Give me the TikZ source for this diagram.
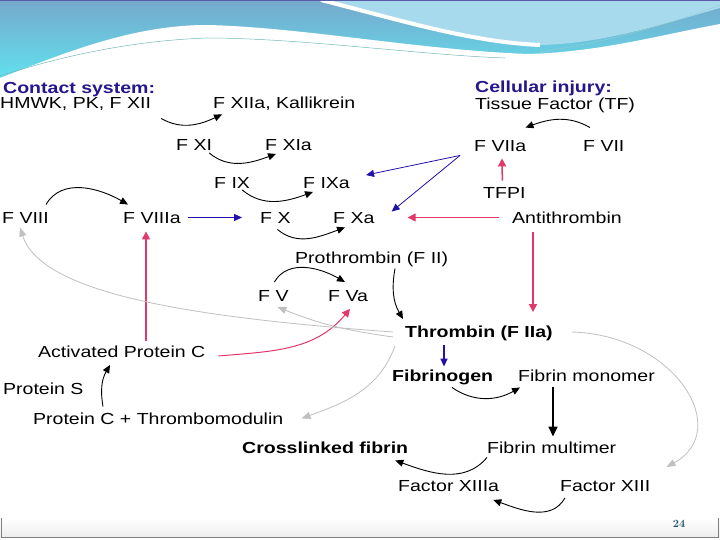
\documentclass[tikz,border=0pt]{standalone}
\usepackage{fontspec}
\newfontfamily\diagfont{Liberation Sans}[FakeStretch=1.22]
\usetikzlibrary{arrows.meta}
\definecolor{coagtitle}{RGB}{36,22,140}
\definecolor{coagblue}{RGB}{34,16,170}
\definecolor{coagpink}{RGB}{226,56,106}
\definecolor{coaggray}{RGB}{192,192,192}
\definecolor{coagteal}{RGB}{30,80,100}
\definecolor{bandtop}{RGB}{118,168,204}
\definecolor{bandcyan}{RGB}{96,226,238}
\definecolor{bandlight}{RGB}{168,218,238}
\tikzset{
  %% ---- labels ----
  lbl/.style    = {font=\diagfont\fontsize{16}{18}\selectfont, inner sep=0pt,
                   anchor=west, text height=11.5pt, text depth=0pt},
  keylbl/.style = {lbl, font=\diagfont\bfseries\fontsize{16}{18}\selectfont},
  hdrlbl/.style = {keylbl, text=coagtitle},
  %% ---- arrows ----
  conv/.style      = {-{Triangle[length=8pt, width=7pt]}, line width=0.9pt, black},
  convthick/.style = {-{Triangle[length=10pt, width=9pt]}, line width=1.6pt, black},
  actarrow/.style  = {-{Triangle[length=8pt, width=7pt]}, line width=0.8pt, coagblue},
  inharrow/.style  = {-{Triangle[length=8pt, width=8pt]}, line width=1pt, coagpink},
  fbarrow/.style   = {-{Triangle[length=9pt, width=7pt]}, line width=0.8pt, coaggray},
}
\begin{document}
\begin{tikzpicture}[x=1pt, y=1pt]

  \useasboundingbox (0,0) rectangle (720,-540);
  \fill[white] (0,0) rectangle (720,-540);

  %% Header banner
  \fill[top color=bandtop, bottom color=bandcyan] (0,0) rectangle (720,-80);
  \fill[bandlight] (321,0) .. controls (400,-20) and (470,-42) .. (540,-45)
    .. controls (600,-44) and (660,-25) .. (720,-8) -- (720,0) -- cycle;
  \draw[white, line width=4pt] (321,0) .. controls (400,-20) and (470,-42) .. (540,-45);
  \fill[white] (0,-78) .. controls (60,-55) and (130,-25) .. (207,-25)
    .. controls (300,-27) and (420,-50) .. (528,-54)
    .. controls (600,-52) and (660,-35) .. (720,-24) -- (720,-82) -- (0,-82) -- cycle;
  \draw[teal!55, line width=0.5pt] (0,-76) .. controls (80,-50) and (150,-40) .. (207,-38)
    .. controls (300,-38) and (420,-55) .. (505,-58);
  \draw[white!60!teal, line width=0.4pt] (540,-52) .. controls (620,-40) and (680,-20) .. (720,-5);
  \draw[gray!70!blue, line width=0.8pt] (0,-0.4) -- (720,-0.4);

  %% Footer band
  \fill[top color=white, bottom color=gray!14] (0,-518) rectangle (720,-537);
  \draw[gray, line width=0.8pt] (1,-518) -- (1,-537) -- (718,-537) -- (718,-518);
  \node[font=\bfseries\fontsize{11}{12}\selectfont, text=coagteal] (pagenum)
    at (679,-524) {\oldstylenums{24}};

  %% Contact system
  \node[hdrlbl] (contact) at (3,-87.5)   {Contact system:};
  \node[lbl]    (hmwk)    at (0,-102.5)  {HMWK, PK, F XII};
  \node[lbl]    (fxiia)   at (213,-102.5) {F XIIa, Kallikrein};
  \node[lbl]    (fxi)     at (176,-145)  {F XI};
  \node[lbl]    (fxia)    at (265,-145)  {F XIa};
  \node[lbl]    (fix)     at (214,-183)  {F IX};
  \node[lbl]    (fixa)    at (303,-183)  {F IXa};
  \node[lbl]    (fviii)   at (2,-217.5)  {F VIII};
  \node[lbl]    (fviiia)  at (123,-217.5) {F VIIIa};
  \node[lbl]    (fx)      at (260,-217.5) {F X};
  \node[lbl]    (fxa)     at (333,-217.5) {F Xa};
  \node[lbl]    (prothr)  at (295,-257.5) {Prothrombin (F II)};
  \node[lbl]    (fv)      at (258,-296)  {F V};
  \node[lbl]    (fva)     at (328,-296)  {F Va};
  \node[keylbl] (thrombin) at (405,-332) {Thrombin (F IIa)};

  %% Cellular injury
  \node[hdrlbl] (cell)    at (475,-87)   {Cellular injury:};
  \node[lbl]    (tf)      at (475,-104)  {Tissue Factor (TF)};
  \node[lbl]    (fviia)   at (474,-145.5) {F VIIa};
  \node[lbl]    (fvii)    at (583,-145.5) {F VII};
  \node[lbl]    (tfpi)    at (483,-192.5) {TFPI};
  \node[lbl]    (antithr) at (512,-217.5) {Antithrombin};

  %% Protein C pathway
  \node[lbl]    (apc)     at (38,-352)   {Activated Protein C};
  \node[lbl]    (prots)   at (3,-388.5)  {Protein S};
  \node[lbl]    (protc)   at (33,-418.5) {Protein C + Thrombomodulin};

  %% Fibrin formation
  \node[keylbl] (fbgn)    at (392,-375.5) {Fibrinogen};
  \node[lbl]    (fbmono)  at (518,-375.5) {Fibrin monomer};
  \node[keylbl] (xlfib)   at (242,-447.5) {Crosslinked fibrin};
  \node[lbl]    (fbmulti) at (487,-447.5) {Fibrin multimer};
  \node[lbl]    (fxiiia)  at (398,-486)  {Factor XIIIa};
  \node[lbl]    (fxiii)   at (560,-486)  {Factor XIII};

  %% Cascade conversions
  \draw[conv] ([shift={(10,-10)}]hmwk.south east) to[out=-30, in=-155]
    ([shift={(9,-6)}]fxiia.south west);
  \draw[conv] ([shift={(-3,-2)}]fxi.south east) to[out=-40, in=-160]
    ([shift={(11,-3)}]fxia.south west);
  \draw[conv] ([shift={(-8,-1)}]fix.south east) to[out=-40, in=-160]
    ([shift={(10,-3)}]fixa.south west);
  \draw[conv] ([shift={(-3,7)}]fviii.north east) to[out=60, in=150]
    ([shift={(5,7)}]fviiia.north west);
  \draw[conv] ([shift={(2,-6)}]fx.south) to[out=-40, in=-160]
    ([shift={(12,-4)}]fxa.south west);
  \draw[conv] ([shift={(1,8)}]fv.north) to[out=60, in=150]
    ([shift={(17,8)}]fva.north west);
  \draw[conv] ([shift={(100,-5)}]prothr.south west) to[out=-100, in=120]
    ([shift={(-2,7)}]thrombin.north west);
  \draw[conv] ([shift={(7,12)}]fvii.north west) to[out=150, in=20]
    ([shift={(-1,12)}]fviia.north east);

  %% Activation (blue)
  \draw[actarrow] ([shift={(-14,-4)}]fviia.south west) -- ([shift={(16,2)}]fixa.north east);
  \draw[actarrow] ([shift={(-14,-4)}]fviia.south west) -- ([shift={(17,0)}]fxa.north east);
  \draw[actarrow] ([shift={(7,0)}]fviiia.east) -- ([shift={(-18,0)}]fx.west);
  \draw[actarrow, line width=1.6pt] ([shift={(39,-7)}]thrombin.south west)
    -- ([shift={(52,3)}]fbgn.north west);

  %% Inhibition (pink)
  \draw[inharrow, line width=1.5pt] ([shift={(-2,6)}]tfpi.north)
    -- ([shift={(28,-7)}]fviia.south west);
  \draw[inharrow] ([shift={(-13,0)}]antithr.west) -- ([shift={(33,0)}]fxa.east);
  \draw[inharrow, line width=1.5pt] ([shift={(21,-9)}]antithr.south west)
    -- ([shift={(128,14)}]thrombin.north west);
  \draw[inharrow, line width=1.5pt] ([shift={(108,5)}]apc.north west)
    -- ([shift={(23,-8)}]fviiia.south west);
  \draw[inharrow] ([shift={(13,-4)}]apc.east) to[out=5, in=-130]
    ([shift={(22,-7)}]fva.south west);

  %% Thrombin feedback (gray)
  \draw[fbarrow] ([shift={(-12,0)}]thrombin.west) .. controls +(-193,14) and +(22,-68) ..
    ([shift={(18,-4)}]fviii.south west);
  \draw[fbarrow] ([shift={(-12,-5)}]thrombin.west) to[out=172, in=-22]
    ([shift={(4,-5)}]fv.south);
  \draw[fbarrow] ([shift={(-10,-8)}]thrombin.south west) to[out=-110, in=20]
    ([shift={(18,0)}]protc.east);
  \draw[fbarrow] ([shift={(19,0)}]thrombin.east) .. controls +(103,-3) and +(67,37) ..
    ([shift={(16,13)}]fxiii.north east);

  %% Protein C and fibrin
  \draw[conv] ([shift={(70,6)}]protc.north west) to[out=100, in=-120]
    ([shift={(72,-7)}]apc.south west);
  \draw[conv] ([shift={(60,-6)}]fbgn.south west) to[out=-35, in=-150]
    ([shift={(2,-6)}]fbmono.south west);
  \draw[convthick] ([shift={(35,-6)}]fbmono.south west)
    -- ([shift={(66,5)}]fbmulti.north west);
  \draw[conv] ([shift={(0,-4)}]fbmulti.south west) to[out=-130, in=-20]
    ([shift={(-13,-7)}]xlfib.south east);
  \draw[conv] ([shift={(5,-6)}]fxiii.south west) to[out=-120, in=-20]
    ([shift={(-6,-8)}]fxiiia.south east);

\end{tikzpicture}
\end{document}
